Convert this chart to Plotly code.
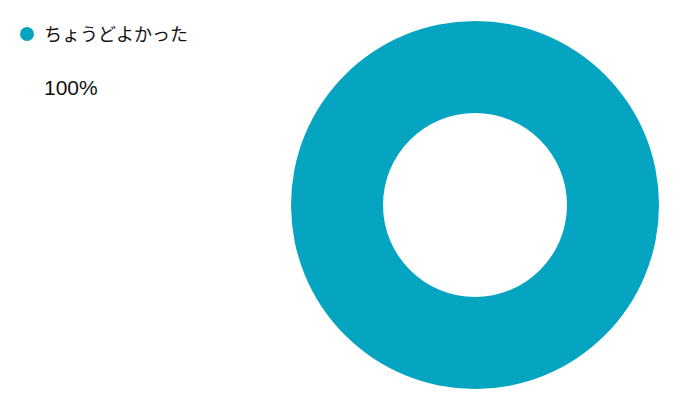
import plotly.graph_objects as go

# 回答データ
labels = ["ちょうどよかった"]
values = [100]
colors = ["#05A4C1"]

W, H = 700, 410
fig = go.Figure()

# ドーナツ (ページ余白8px分を差し引いて配置)
fig.add_trace(go.Pie(
    labels=labels,
    values=values,
    hole=0.5,
    marker=dict(colors=colors),
    textinfo="none",
    hoverinfo="label+percent",
    sort=False,
    showlegend=False,
    domain=dict(x=[283 / W, 651 / W], y=[29 / H, 397 / H]),
))

# 凡例は手書き(丸マーカー + ラベル + 割合)
total = sum(values)
for i, (lab, val) in enumerate(zip(labels, values)):
    y0 = 26 + i * 90
    fig.add_shape(
        type="circle", xref="paper", yref="paper",
        x0=12 / W, x1=26 / W,
        y0=1 - (y0 + 7) / H, y1=1 - (y0 - 7) / H,
        fillcolor=colors[i], line=dict(width=0),
    )
    fig.add_annotation(
        x=34 / W, y=1 - (y0 + 1) / H, xref="paper", yref="paper",
        text=lab, showarrow=False, xanchor="left", yanchor="middle",
        font=dict(size=18, color="#111111"),
    )
    fig.add_annotation(
        x=34 / W, y=1 - (y0 + 54) / H, xref="paper", yref="paper",
        text=f"{round(val / total * 100)}%", showarrow=False,
        xanchor="left", yanchor="middle",
        font=dict(size=21, color="#111111"),
    )

fig.update_layout(
    width=W, height=H,
    margin=dict(l=0, r=0, t=0, b=0),
    paper_bgcolor="white",
    plot_bgcolor="white",
    font=dict(family="Liberation Sans, Noto Sans CJK JP, sans-serif"),
)

fig.write_html("out.html")
